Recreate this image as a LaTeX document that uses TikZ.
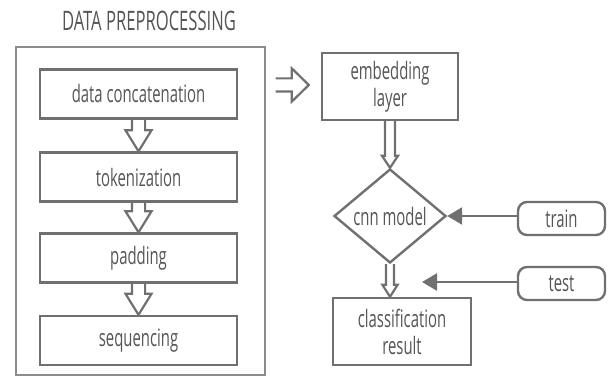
\documentclass[tikz,border=0pt]{standalone}
\usepackage{fontspec}
\setmainfont{Open Sans}[FakeStretch=0.62]
\usepackage{xcolor}
\usetikzlibrary{arrows.meta,calc,shapes.geometric}

\definecolor{linegray}{HTML}{707070}
\definecolor{framegray}{HTML}{8C8C8C}
\definecolor{textgray}{HTML}{555555}

% hollow block arrows: start, tip, half shaft, half head, head length
\newcommand{\downblock}[5]{%
  \draw[blockline] let \p1=(#1), \p2=(#2) in
    (\x2-#3,\y1) -- (\x2-#3,\y2+#5) -- (\x2-#4,\y2+#5) -- (\x2,\y2)
    -- (\x2+#4,\y2+#5) -- (\x2+#3,\y2+#5) -- (\x2+#3,\y1);}
\newcommand{\rightblock}[5]{%
  \draw[blockline] let \p1=(#1), \p2=(#2) in
    (\x1,\y1+#3) -- (\x2-#5,\y1+#3) -- (\x2-#5,\y1+#4) -- (\x2,\y1)
    -- (\x2-#5,\y1-#4) -- (\x2-#5,\y1-#3) -- (\x1,\y1-#3);}

\tikzset{
  procbox/.style={draw=linegray,line width=1.2pt,text=textgray,inner sep=0pt,
    align=center,font=\fontsize{12}{13.5}\selectfont},
  modebox/.style={procbox,rounded corners=4.5pt,minimum width=43.5pt,minimum height=16.5pt},
  blockline/.style={draw=linegray,line width=1.1pt,line join=miter},
  feed/.style={draw=linegray,line width=1.3pt,-{Triangle[length=7.5pt,width=8.5pt]}}
}

\begin{document}
\begin{tikzpicture}[x=0.5pt,y=-0.5pt]
  \useasboundingbox (0,0) rectangle (608,379);

  % preprocessing block
  \node[text=textgray,font=\fontsize{13.4}{15}\selectfont] (title) at (149,21) {DATA PREPROCESSING};
  \node[draw=framegray,line width=1pt,minimum width=124.5pt,minimum height=164pt] (outer) at (140,211) {};
  \node[procbox,minimum width=98.5pt,minimum height=24.5pt] (concat) at (138.5,94) {data concatenation};
  \node[procbox,minimum width=98.5pt,minimum height=24.5pt] (token) at (138.5,177) {tokenization};
  \node[procbox,minimum width=98.5pt,minimum height=24.5pt] (pad) at (138.5,258) {padding};
  \node[procbox,minimum width=98.5pt,minimum height=24.5pt] (seq) at (138.5,340.5) {sequencing};

  \downblock{concat.south}{token.north}{3.3pt}{6.5pt}{10.5pt}
  \downblock{token.south}{pad.north}{3.3pt}{6.5pt}{10.5pt}
  \downblock{pad.south}{seq.north}{3.3pt}{6.5pt}{10.5pt}

  % model part
  \node[procbox,minimum width=68pt,minimum height=33.5pt] (embed) at (390,86.5) {embedding\\layer};
  \node[procbox,diamond,minimum width=56pt,minimum height=47pt] (cnn) at (390,216) {cnn model};
  \node[procbox,minimum width=69pt,minimum height=33.5pt] (result) at (402,331.5) {classification\\result};
  \node[modebox] (train) at (561.5,218.5) {train};
  \node[modebox] (test) at (561.5,283.5) {test};
  \coordinate (testend) at (422,282);

  \rightblock{$(outer.east |- 0,85)+(5pt,0)$}{$(embed.west |- 0,85)+(-6pt,0)$}{3.3pt}{8.3pt}{8.5pt}
  \downblock{embed.south}{cnn.north}{2.5pt}{4pt}{6pt}
  \downblock{cnn.south}{cnn.south |- result.north}{2pt}{3.8pt}{6pt}

  \draw[feed] (cnn.east -| train.west) -- (cnn.east);
  \draw[feed] (testend -| test.west) -- (testend);
\end{tikzpicture}
\end{document}
